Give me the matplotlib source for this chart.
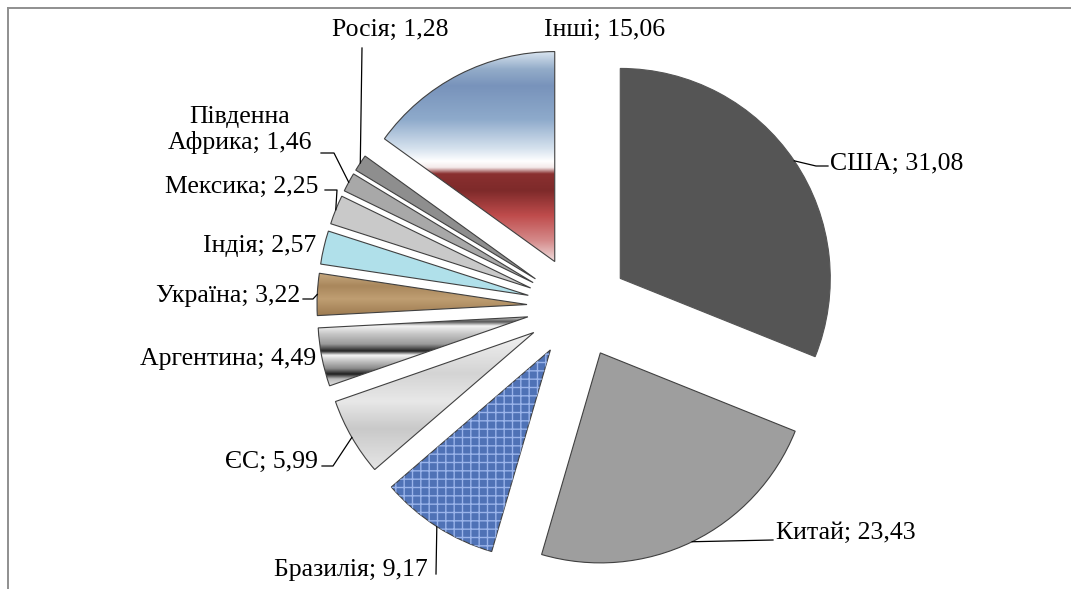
import numpy as np
import matplotlib
matplotlib.use("Agg")
import matplotlib.pyplot as plt
from matplotlib.lines import Line2D
from matplotlib.patches import Wedge

plt.rcParams["font.family"] = ["Liberation Serif", "DejaVu Serif"]

# data: share of world production, %
countries = ["США", "Китай", "Бразилія", "ЄС", "Аргентина", "Україна",
             "Індія", "Мексика", "Південна\nАфрика", "Росія", "Інші"]
shares = [31.08, 23.43, 9.17, 5.99, 4.49, 3.22, 2.57, 2.25, 1.46, 1.28, 15.06]

# figure geometry (pixels)
W, H = 1071, 589
CX, CY, R = 578, 307, 210          # pie centre and radius in pixels
EXPLODE = 0.243


def to_data(px, py):
    return (px - CX) / R, (CY - py) / R


fig = plt.figure(figsize=(W / 100, H / 100), dpi=100)
ax = fig.add_axes([0, 0, 1, 1])

base_colors = ["#555555", "#9e9e9e", "#4f72b6", "#dedede", "#cccccc", "#b3926a",
               "#b0e0ea", "#c9c9c9", "#a8a8a8", "#8e8e8e", "#ffffff"]

wedges, _ = ax.pie(shares, startangle=90, counterclock=False, radius=1,
                   explode=[EXPLODE] * len(shares), colors=base_colors,
                   wedgeprops=dict(edgecolor="#404040", linewidth=0.8))
wedges[0].set_edgecolor("#555555")


def gradient_fill(w, stops, colors):
    # paint a vertical gradient image clipped to the wedge
    bb = w.get_path().get_extents()
    t = np.linspace(0, 1, 300)
    rgb = np.array([matplotlib.colors.to_rgb(c) for c in colors])
    arr = np.stack([np.interp(t, stops, rgb[:, k]) for k in range(3)], axis=-1)
    arr = arr[:, None, :]
    im = ax.imshow(arr, extent=[bb.x0, bb.x1, bb.y0, bb.y1], origin="upper",
                   aspect="auto", interpolation="bilinear", zorder=0.5)
    im.set_clip_path(w)
    w.set_facecolor("none")
    w.set_zorder(1)


# "Інші": blue / white / red gradient
gradient_fill(wedges[10],
              [0.0, 0.08, 0.16, 0.32, 0.46, 0.52, 0.55, 0.58, 0.66, 0.78, 0.9, 1.0],
              ["#d6e2ee", "#93acc9", "#7893bb", "#8eaacb", "#d6e2ee", "#ffffff",
               "#f4eaea", "#8a3030", "#7e2a2a", "#bf4c4c", "#d58a8a", "#f0dede"])
# "Аргентина": chrome stripes
gradient_fill(wedges[4],
              [0.0, 0.08, 0.14, 0.25, 0.4, 0.5, 0.56, 0.62, 0.75, 0.83, 0.9, 1.0],
              ["#e8e8e8", "#555555", "#f4f4f4", "#c8c8c8", "#9a9a9a", "#222222",
               "#f8f8f8", "#d0d0d0", "#8a8a8a", "#1e1e1e", "#bdbdbd", "#e0e0e0"])
# "ЄС": marble-ish light grey
gradient_fill(wedges[3], [0.0, 0.3, 0.5, 0.7, 1.0],
              ["#f2f2f2", "#d4d4d4", "#e8e8e8", "#c9c9c9", "#e6e6e6"])
# "Україна": tan texture
gradient_fill(wedges[5], [0.0, 0.3, 0.6, 1.0],
              ["#c7a97f", "#a9875c", "#bf9e72", "#9d7a50"])

# "Бразилія": blue fabric -> hatch overlay
w = wedges[2]
ax.add_patch(Wedge(w.center, w.r, w.theta1, w.theta2, facecolor="none",
                   edgecolor="#9ab4ea", linewidth=0, hatch="++", zorder=1.1))

# labels: (text position in px, alignment, leader points in px)
label_pos = [(830, 164, "left"), (776, 533, "left"), (428, 570, "right"),
             (318, 462, "right"), (316, 359, "right"), (300, 296, "right"),
             (316, 246, "right"), (318, 187, "right"), (240, 130, "center"),
             (390, 30, "center"), (605, 30, "center")]
leader_end = {0: [(816, 166), (828, 166)], 1: [(773, 540)], 2: [(436, 574)],
              3: [(333, 466), (322, 466)], 5: [(313, 299), (303, 299)],
              7: [(337, 190), (325, 190)], 8: [(334, 153), (321, 153)],
              9: [(362, 48)]}

for i, (name, val) in enumerate(zip(countries, shares)):
    px, py, ha = label_pos[i]
    x, y = to_data(px, py)
    ax.text(x, y, f"{name}; {val:.2f}".replace(".", ","), ha=ha, va="center",
            fontsize=18.5, color="black", multialignment="center",
            linespacing=1.15)
    if i in leader_end:
        w = wedges[i]
        mid = np.deg2rad((w.theta1 + w.theta2) / 2)
        ax_pt = (w.center[0] + w.r * np.cos(mid), w.center[1] + w.r * np.sin(mid))
        pts = [ax_pt] + [to_data(*p) for p in leader_end[i]]
        xs, ys = zip(*pts)
        ax.plot(xs, ys, color="black", lw=0.9, zorder=3)

ax.set_aspect("auto")
x0, y1 = to_data(0, 0)
x1, y0 = to_data(W, H)
ax.set_xlim(x0, x1)
ax.set_ylim(y0, y1)
ax.axis("off")

# chart area border (top and left visible)
fig.add_artist(Line2D([8 / W, 1], [1 - 8 / H, 1 - 8 / H], transform=fig.transFigure,
                      color="#8f8f8f", lw=1.4))
fig.add_artist(Line2D([8 / W, 8 / W], [0, 1 - 8 / H], transform=fig.transFigure,
                      color="#8f8f8f", lw=1.4))

fig.savefig("out.png", dpi=100)
